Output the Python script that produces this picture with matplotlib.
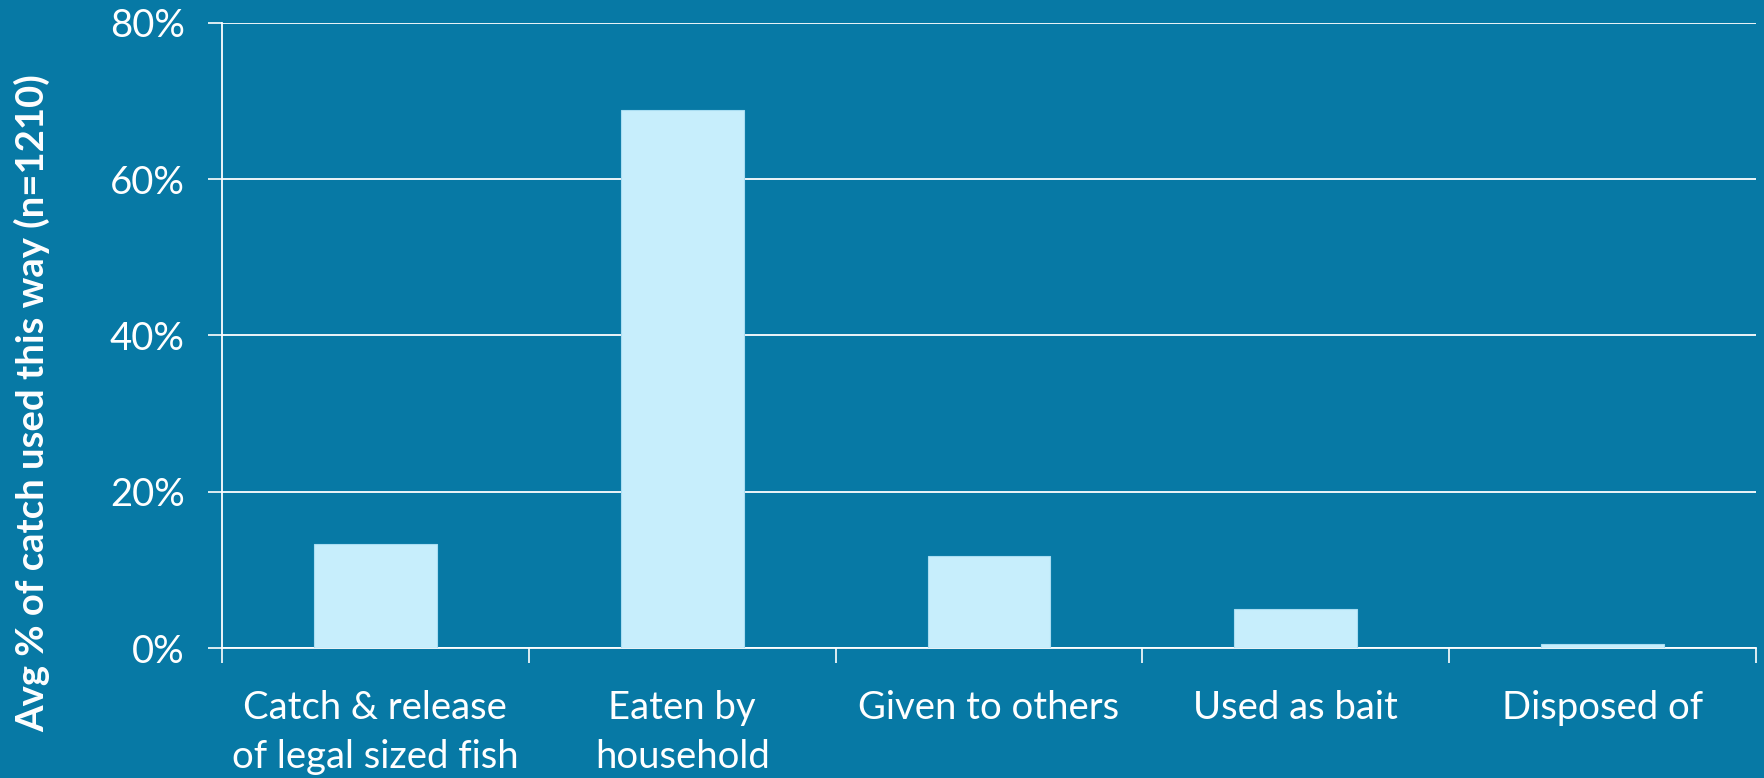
import numpy as np
import matplotlib.pyplot as plt
from matplotlib.ticker import FixedLocator, PercentFormatter

# --- data ---
categories = ["Catch & release\nof legal sized fish", "Eaten by\nhousehold",
              "Given to others", "Used as bait", "Disposed of"]
avg_pct = [13.4, 68.8, 11.8, 5.0, 0.5]

BG = "#0779A5"
BAR = "#C7EEFC"
FG = "white"

plt.rcParams["font.family"] = ["Lato", "DejaVu Sans"]

fig = plt.figure(figsize=(17.65, 7.78), dpi=100, facecolor=BG)
ax = fig.add_axes([0.1258, 0.1666, 0.8691, 0.8044], facecolor=BG)

x = np.arange(len(categories))
ax.bar(x, avg_pct, width=0.4, color=BAR, edgecolor="#A9DDF2", linewidth=0.8, zorder=3)

# axis limits and grid
ax.set_xlim(-0.5, len(categories) - 0.5)
ax.set_ylim(0, 80)
ax.set_yticks([0, 20, 40, 60, 80])
ax.yaxis.set_major_formatter(PercentFormatter(decimals=0))
ax.grid(axis="y", color=FG, linewidth=1.3, zorder=1)
ax.set_axisbelow(True)

# category boundaries get the ticks, labels sit at bar centres
ax.xaxis.set_major_locator(FixedLocator(np.arange(-0.5, len(categories))))
ax.xaxis.set_minor_locator(FixedLocator(x))
ax.set_xticklabels([], minor=False)
ax.set_xticklabels(categories, minor=True)
ax.tick_params(axis="x", which="major", direction="out", length=11, width=1.2, color=FG)
ax.tick_params(axis="x", which="minor", length=0, pad=30, labelsize=27.5, labelcolor=FG)
ax.tick_params(axis="y", direction="out", length=10, width=1.2, color=FG,
               pad=17, labelsize=27.5, labelcolor=FG)
for lbl in ax.get_xticklabels(minor=True):
    lbl.set_linespacing(1.45)

for side in ("top", "right"):
    ax.spines[side].set_visible(False)
for side in ("left", "bottom"):
    ax.spines[side].set_color(FG)
    ax.spines[side].set_linewidth(1.3)

ax.set_ylabel("Avg % of catch used this way (n=1210)", fontsize=27.5,
              fontweight="bold", color=FG)
ax.yaxis.set_label_coords(-0.112, 0.392)

fig.savefig("out.png", dpi=100, facecolor=BG)
